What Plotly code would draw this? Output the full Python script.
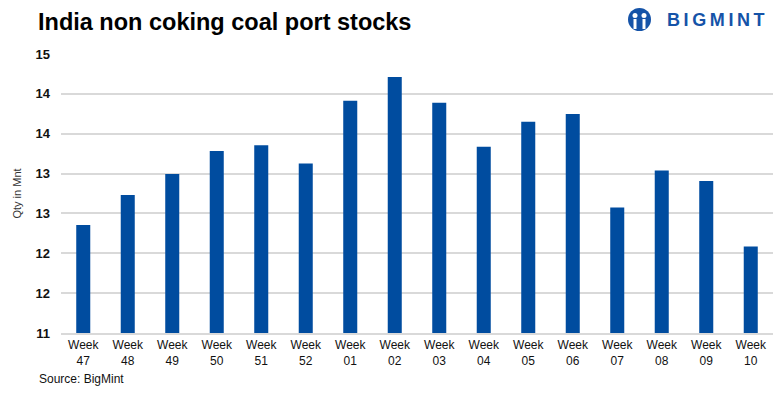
import plotly.graph_objects as go

weeks = ["Week<br>47", "Week<br>48", "Week<br>49", "Week<br>50", "Week<br>51", "Week<br>52",
         "Week<br>01", "Week<br>02", "Week<br>03", "Week<br>04", "Week<br>05", "Week<br>06",
         "Week<br>07", "Week<br>08", "Week<br>09", "Week<br>10"]
stocks = [12.55, 12.98, 13.28, 13.61, 13.69, 13.43, 14.33, 14.67,
          14.30, 13.67, 14.03, 14.14, 12.80, 13.33, 13.18, 12.24]
y_min, y_max = 11, 15
n_ticks = 8
tick_vals = [y_min + i * (y_max - y_min) / (n_ticks - 1) for i in range(n_ticks)]
tick_text = ["11", "12", "12", "13", "13", "14", "14", "15"]

BLUE = "#004C9F"
LOGO = "#1553A8"
GRID = "#d9d9d9"

# page has an 8px body margin: the figure is sized/offset to compensate
PL, PT, PW, PH = 61, 54, 712, 279  # plot area in page pixels


def px(x):
    return (x - PL) / PW


def py(y):
    return (PT + PH - y) / PH


fig = go.Figure(go.Bar(x=weeks, y=stocks, marker_color=BLUE, marker_line_width=0))

fig.update_layout(
    width=775, height=385,
    margin=dict(l=53, r=10, t=46, b=60, autoexpand=False),
    paper_bgcolor="white", plot_bgcolor="white",
    bargap=0.685,
    showlegend=False,
    font=dict(family="Liberation Sans, Arial, sans-serif", color="#111"),
    xaxis=dict(type="category", showgrid=False, showline=True, linecolor=GRID, linewidth=1.5,
               ticks="", tickfont=dict(size=12, color="#111"), fixedrange=True, automargin=False),
    yaxis=dict(range=[y_min, y_max], tickvals=tick_vals, ticktext=tick_text, automargin=False,
               showgrid=True, gridcolor=GRID, gridwidth=1.5, zeroline=False, showline=False,
               tickfont=dict(size=13, color="#111", family="Liberation Sans, Arial, sans-serif", weight="bold"),
               ticklabelstandoff=10,
               title=dict(text="Qty in Mnt", font=dict(size=11, color="#333"), standoff=11)),
    annotations=[
        dict(text="<b>India non coking coal port stocks</b>", xref="paper", yref="paper",
             x=px(36), y=py(22), xanchor="left", yanchor="middle", showarrow=False,
             font=dict(size=23.5, color="#000")),
        dict(text="Source: BigMint", xref="paper", yref="paper",
             x=px(37), y=py(379), xanchor="left", yanchor="middle", showarrow=False,
             font=dict(size=12, color="#111")),
        dict(text="<b>B\u2009I\u2009G\u2009M\u2009I\u2009N\u2009T</b>", xref="paper", yref="paper",
             x=px(767), y=py(20), xanchor="right", yanchor="middle", showarrow=False,
             font=dict(size=18, color=LOGO)),
    ],
    shapes=[
        dict(type="circle", xref="paper", yref="paper",
             x0=px(628), x1=px(651), y0=py(31), y1=py(8),
             fillcolor=LOGO, line_width=0),
        dict(type="circle", xref="paper", yref="paper",
             x0=px(632.5), x1=px(637.5), y0=py(18), y1=py(13),
             fillcolor="white", line_width=0),
        dict(type="circle", xref="paper", yref="paper",
             x0=px(641.5), x1=px(646.5), y0=py(18), y1=py(13),
             fillcolor="white", line_width=0),
        dict(type="rect", xref="paper", yref="paper",
             x0=px(633.5), x1=px(636.5), y0=py(29), y1=py(19),
             fillcolor="white", line_width=0),
        dict(type="rect", xref="paper", yref="paper",
             x0=px(642.5), x1=px(645.5), y0=py(29), y1=py(19),
             fillcolor="white", line_width=0),
    ],
)

fig.write_html("out.html")
